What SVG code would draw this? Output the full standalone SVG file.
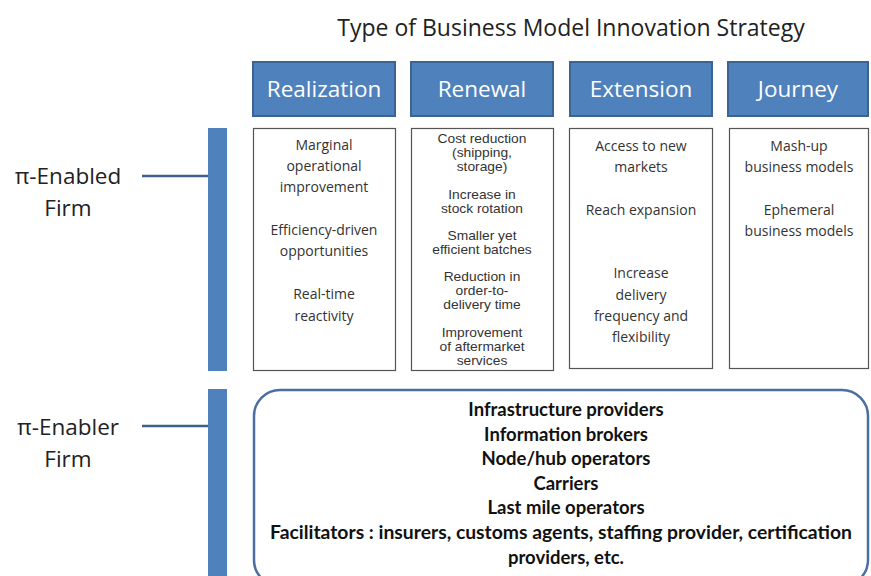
<svg xmlns="http://www.w3.org/2000/svg" width="871" height="576" viewBox="0 0 871 576">
<style>
.hdr{fill:#4f81bd;stroke:#3a6494;stroke-width:2}
.hdrt{font-family:"Open Sans","Liberation Sans",sans-serif;font-size:22.5px;fill:#fff;text-anchor:middle}
.col{fill:#fff;stroke:#555;stroke-width:1.2}
.ct{font-family:"Open Sans","Liberation Sans",sans-serif;font-size:14px;fill:#333;text-anchor:middle}
.rt{font-family:"Liberation Sans",Arial,sans-serif;font-size:12px;fill:#333;text-anchor:middle}
.bar{fill:#4f81bd}
.lbl{font-family:"Open Sans","Liberation Sans",sans-serif;font-size:22.5px;fill:#222;text-anchor:middle}
.bt{font-family:"Lato","Liberation Sans",sans-serif;font-size:18.5px;font-weight:bold;fill:#111;text-anchor:middle}
.conn{stroke:#3d5f8a;stroke-width:2.5;fill:none}
</style>
<rect width="871" height="576" fill="#fff"/>
<text x="571" y="36" font-family="Open Sans, Liberation Sans, sans-serif" font-size="23" fill="#222" text-anchor="middle">Type of Business Model Innovation Strategy</text>
<g id="hdr-realization"><rect class="hdr" x="253" y="62" width="142" height="54"/><text class="hdrt" x="324" y="97">Realization</text></g>
<g id="hdr-renewal"><rect class="hdr" x="411" y="62" width="142" height="54"/><text class="hdrt" x="482" y="97">Renewal</text></g>
<g id="hdr-extension"><rect class="hdr" x="570" y="62" width="142" height="54"/><text class="hdrt" x="641" y="97">Extension</text></g>
<g id="hdr-journey"><rect class="hdr" x="728" y="62" width="140" height="54"/><text class="hdrt" x="798" y="97">Journey</text></g>
<g id="col-realization"><rect class="col" x="253.5" y="128.5" width="142" height="242"/>
<text class="ct" x="324" y="150">Marginal</text><text class="ct" x="324" y="171">operational</text><text class="ct" x="324" y="192">improvement</text>
<text class="ct" x="324" y="235">Efficiency-driven</text><text class="ct" x="324" y="256">opportunities</text>
<text class="ct" x="324" y="299">Real-time</text><text class="ct" x="324" y="321">reactivity</text></g>
<g id="col-renewal"><rect class="col" x="411.5" y="128.5" width="142" height="242"/>
<g transform="translate(482,0) scale(1.15,1) translate(-482,0)">
<text class="rt" x="482" y="143">Cost reduction</text><text class="rt" x="482" y="157">(shipping,</text><text class="rt" x="482" y="171">storage)</text>
<text class="rt" x="482" y="199">Increase  in</text><text class="rt" x="482" y="213">stock rotation</text>
<text class="rt" x="482" y="240">Smaller yet</text><text class="rt" x="482" y="254">efficient batches</text>
<text class="rt" x="482" y="281">Reduction in</text><text class="rt" x="482" y="295">order-to-</text><text class="rt" x="482" y="309">delivery time</text>
<text class="rt" x="482" y="337">Improvement</text><text class="rt" x="482" y="351">of aftermarket</text><text class="rt" x="482" y="365">services</text></g></g>
<g id="col-extension"><rect class="col" x="569.5" y="128.5" width="143" height="240"/>
<text class="ct" x="641" y="151">Access to new</text><text class="ct" x="641" y="172">markets</text>
<text class="ct" x="641" y="215">Reach expansion</text>
<text class="ct" x="641" y="278">Increase</text><text class="ct" x="641" y="300">delivery</text><text class="ct" x="641" y="321">frequency and</text><text class="ct" x="641" y="342">flexibility</text></g>
<g id="col-journey"><rect class="col" x="729.5" y="128.5" width="139" height="240"/>
<text class="ct" x="799" y="151">Mash-up</text><text class="ct" x="799" y="172">business models</text>
<text class="ct" x="799" y="215">Ephemeral</text><text class="ct" x="799" y="236">business models</text></g>
<g id="enabled"><rect class="bar" x="208" y="128" width="19" height="243"/>
<text class="lbl" x="68" y="184">π-Enabled</text><text class="lbl" x="68" y="216">Firm</text></g>
<g id="enabler"><rect class="bar" x="208" y="389" width="19" height="190"/>
<text class="lbl" x="68" y="435">π-Enabler</text><text class="lbl" x="68" y="467">Firm</text></g>
<g id="enabler-box"><rect x="254" y="390" width="614" height="196" rx="26" fill="#fff" stroke="#4a6fa0" stroke-width="2.5"/>
<text class="bt" x="566" y="416">Infrastructure providers</text>
<text class="bt" x="566" y="441">Information brokers</text>
<text class="bt" x="566" y="465">Node/hub operators</text>
<text class="bt" x="566" y="490">Carriers</text>
<text class="bt" x="566" y="514">Last mile operators</text>
<text class="bt" x="561" y="539" textLength="582" lengthAdjust="spacingAndGlyphs">Facilitators : insurers, customs agents, staffing provider, certification</text>
<text class="bt" x="566" y="564">providers, etc.</text></g>
<g id="connectors">
<line class="conn" x1="142" y1="176" x2="208" y2="176"/>
<line class="conn" x1="142" y1="426" x2="208" y2="426"/>
</g>
</svg>
